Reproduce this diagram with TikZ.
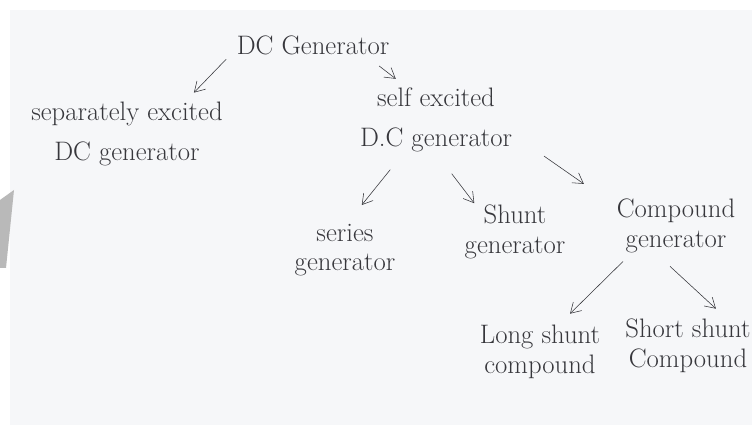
\documentclass[tikz,border=0pt]{standalone}
\usepackage{tikz}
\usetikzlibrary{arrows.meta}

\definecolor{paper}{RGB}{246,247,249}
\definecolor{ink}{RGB}{55,55,60}

\tikzset{
    gen/.style={align=center, text=ink, font=\fontsize{19}{28}\selectfont, inner sep=1pt},
    subgen/.style={gen, font=\fontsize{19}{21}\selectfont},
    branch/.style={draw=ink, thin, -{Straight Barb[length=2.5mm,width=3mm]}, shorten >=2pt, shorten <=2pt}
}

\begin{document}
\begin{tikzpicture}[x=0.025cm, y=-0.025cm]
    % sheet
    \useasboundingbox (0,0) rectangle (752,425);
    \fill[white] (0,0) rectangle (752,425);
    \fill[paper] (10,10) rectangle (752,425);
    \fill[gray!55] (0,200) -- (14,190) -- (6,268) -- (0,268) -- cycle;

    % top
    \node[gen] (dcgen) at (313,45) {DC Generator};

    % first level
    \node[gen] (sepexc) at (127,134) {separately excited\\DC generator};
    \node[gen] (selfexc) at (436,120) {self excited\\D.C generator};

    % self excited kinds
    \node[subgen] (series) at (345,250) {series\\generator};
    \node[subgen] (shunt) at (515,232) {Shunt\\generator};
    \node[subgen] (compound) at (676,226) {Compound\\generator};

    % compound kinds
    \node[subgen] (longsh) at (540,352) {Long shunt\\compound};
    \node[subgen] (shortsh) at (688,346) {Short shunt\\Compound};

    % branches
    \draw[branch] ([shift={(-7,1)}]dcgen.south west) -- ([shift={(65,-6)}]sepexc.north);
    \draw[branch] ([shift={(-14,8)}]dcgen.south east) -- ([shift={(-38,-6)}]selfexc.north);
    \draw[branch] ([shift={(-44,14)}]selfexc.south) -- ([shift={(15,-15)}]series.north);
    \draw[branch] ([shift={(14,18)}]selfexc.south) -- ([shift={(-39,2)}]shunt.north);
    \draw[branch] ([shift={(28,1)}]selfexc.south east) -- ([shift={(-29,-12)}]compound.north west);
    \draw[branch] ([shift={(-51,5)}]compound.south) -- ([shift={(28,-8)}]longsh.north);
    \draw[branch] ([shift={(-8,10)}]compound.south) -- ([shift={(30,-7)}]shortsh.north);
\end{tikzpicture}
\end{document}
